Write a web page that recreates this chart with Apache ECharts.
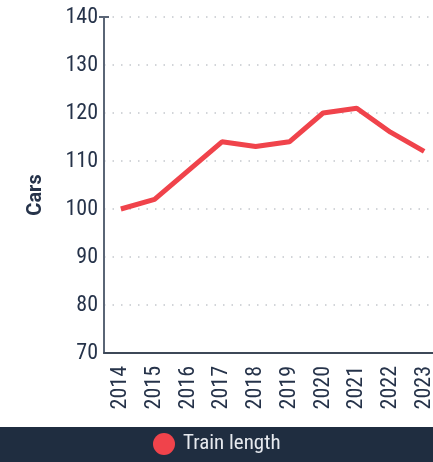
<!DOCTYPE html>
<html>
<head>
<meta charset="utf-8">
<script src="https://cdn.jsdelivr.net/npm/echarts@6/dist/echarts.min.js"></script>
<style>
  html, body { margin: 0; padding: 0; background: #fff; }
  #chart { width: 433px; height: 462px; }
</style>
</head>
<body>
<div id="chart"></div>
<script>
  const years = ['2014', '2015', '2016', '2017', '2018', '2019', '2020', '2021', '2022', '2023']
  const trainLength = [100, 102, 108, 114, 113, 114, 120, 121, 116, 112]
  const seriesName = 'Train length'
  const axisName = 'Cars'

  const FONT = '"Roboto Condensed", "Liberation Sans Narrow", Roboto, sans-serif'
  const RED = '#f0434b'
  const NAVY = '#1f2d40'
  const TEXT = '#26334a'

  const myChart = echarts.init(document.getElementById('chart'))
  const option = {
    animation: false,
    grid: {
      left: 104,
      top: 17,
      width: 337,
      height: 336,
      outerBoundsMode: 'none'
    },
    graphic: [{
      type: 'rect',
      left: 0,
      bottom: 0,
      z: -1,
      shape: { width: 433, height: 35 },
      style: { fill: NAVY }
    }],
    legend: {
      data: [{ name: seriesName, icon: 'circle' }],
      left: 153,
      top: 433,
      padding: 0,
      itemWidth: 22,
      itemHeight: 22,
      itemGap: 8,
      textStyle: { color: '#e6e9ee', fontSize: 21, fontFamily: FONT, padding: [0, 0, 0, 3] }
    },
    xAxis: {
      type: 'category',
      data: years,
      boundaryGap: true,
      axisLine: { lineStyle: { color: '#3d4858', width: 2 } },
      axisTick: { show: false },
      splitLine: { show: false },
      axisLabel: {
        rotate: 90,
        margin: 13,
        color: TEXT,
        fontSize: 22,
        fontFamily: FONT
      }
    },
    yAxis: {
      type: 'value',
      min: 70,
      max: 140,
      interval: 10,
      name: axisName,
      nameLocation: 'middle',
      nameGap: 58,
      nameRotate: 90,
      nameTextStyle: {
        color: TEXT,
        fontSize: 20,
        fontWeight: 'bold',
        fontFamily: 'Roboto, sans-serif',
        padding: [0, 20, 0, 0]
      },
      axisLine: {
        show: true,
        symbol: ['none', 'rect'],
        symbolSize: [10, 2],
        lineStyle: { color: '#5a6576', width: 2 }
      },
      axisTick: { show: false },
      splitLine: {
        show: true,
        lineStyle: { color: '#c4c8cd', type: [1.5, 7], width: 1.5 }
      },
      axisLabel: {
        margin: 6,
        color: TEXT,
        fontSize: 22,
        fontFamily: FONT
      }
    },
    series: [{
      name: seriesName,
      type: 'line',
      data: trainLength,
      symbol: 'none',
      itemStyle: { color: RED },
      lineStyle: { color: RED, width: 5 },
      smooth: false
    }]
  }
  myChart.setOption(option)
</script>
</body>
</html>
